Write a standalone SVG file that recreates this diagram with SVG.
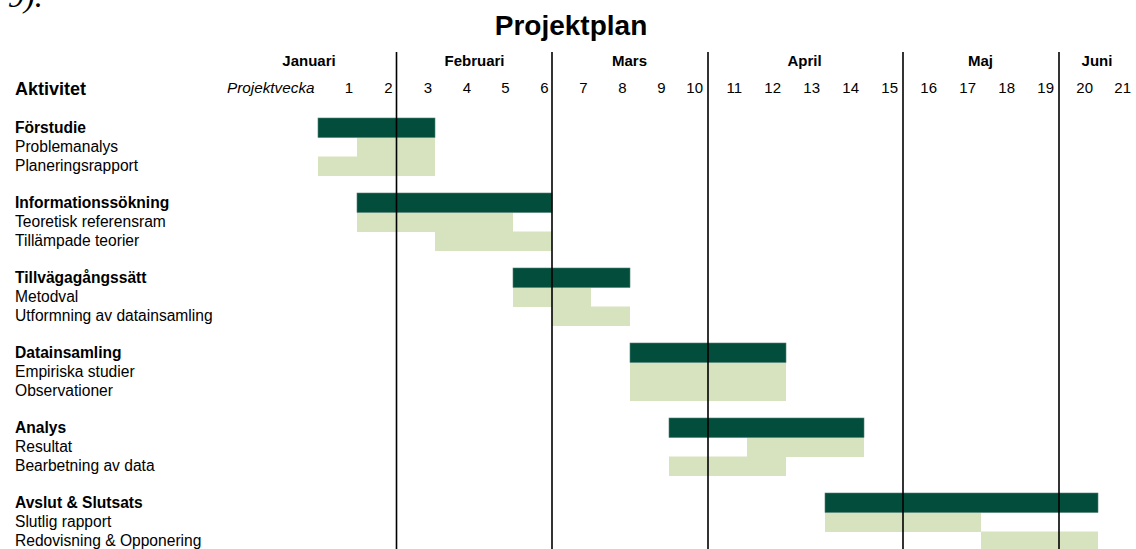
<svg xmlns="http://www.w3.org/2000/svg" width="1136" height="549" viewBox="0 0 1136 549">
<style>
text{font-family:"Liberation Sans",Arial,sans-serif;fill:#000}
.t{font-size:28px;font-weight:bold;text-anchor:middle}
.m{font-size:15px;font-weight:bold;text-anchor:middle}
.n{font-size:15px;text-anchor:end}
.h{font-size:18px;font-weight:bold}
.g{font-size:15.6px;font-weight:bold}
.i{font-size:15.6px}
.p{font-size:15.3px;font-style:italic}
.d{fill:#024d3c;stroke:#4f7f70;stroke-width:0.6}
.l{fill:#d7e2bf}
.v{stroke:#000;stroke-width:1.6}
</style>
<rect width="1136" height="549" fill="#fff"/>
<text x="8" y="7" style="font-family:'Liberation Serif',serif;font-style:italic;font-size:32px">9).</text>
<text class="t" x="571" y="35">Projektplan</text>
<g id="header">
<text class="m" x="309" y="66">Januari</text>
<text class="m" x="474.5" y="66">Februari</text>
<text class="m" x="629.5" y="66">Mars</text>
<text class="m" x="804.5" y="66">April</text>
<text class="m" x="980.5" y="66">Maj</text>
<text class="m" x="1097" y="66">Juni</text>
<text class="h" x="15" y="95">Aktivitet</text>
<text class="p" x="227" y="93">Projektvecka</text>
<text class="n" x="353" y="93">1</text>
<text class="n" x="392.5" y="93">2</text>
<text class="n" x="432" y="93">3</text>
<text class="n" x="471" y="93">4</text>
<text class="n" x="509.5" y="93">5</text>
<text class="n" x="548.5" y="93">6</text>
<text class="n" x="587.5" y="93">7</text>
<text class="n" x="626.5" y="93">8</text>
<text class="n" x="665.5" y="93">9</text>
<text class="n" x="703" y="93">10</text>
<text class="n" x="742" y="93">11</text>
<text class="n" x="781" y="93">12</text>
<text class="n" x="820" y="93">13</text>
<text class="n" x="859" y="93">14</text>
<text class="n" x="898" y="93">15</text>
<text class="n" x="937" y="93">16</text>
<text class="n" x="976" y="93">17</text>
<text class="n" x="1015" y="93">18</text>
<text class="n" x="1054" y="93">19</text>
<text class="n" x="1093" y="93">20</text>
<text class="n" x="1131" y="93">21</text>
</g>
<g id="forstudie">
<text class="g" x="15" y="133">Förstudie</text>
<text class="i" x="15" y="152">Problemanalys</text>
<text class="i" x="15" y="171">Planeringsrapport</text>
<rect class="l" x="357" y="137.5" width="78" height="19.5"/>
<rect class="l" x="318" y="156.5" width="117" height="19.5"/>
<rect class="d" x="318" y="118" width="117" height="19.5"/>
</g>
<g id="informationssokning">
<text class="g" x="15" y="208">Informationssökning</text>
<text class="i" x="15" y="227">Teoretisk referensram</text>
<text class="i" x="15" y="246">Tillämpade teorier</text>
<rect class="l" x="357" y="212.5" width="156" height="19.5"/>
<rect class="l" x="435" y="231.5" width="117" height="19.5"/>
<rect class="d" x="357" y="193" width="195" height="19.5"/>
</g>
<g id="tillvagagangssatt">
<text class="g" x="15" y="283">Tillvägagångssätt</text>
<text class="i" x="15" y="302">Metodval</text>
<text class="i" x="15" y="321">Utformning av datainsamling</text>
<rect class="l" x="513" y="287.5" width="78" height="19.5"/>
<rect class="l" x="552" y="306.5" width="78" height="19.5"/>
<rect class="d" x="513" y="268" width="117" height="19.5"/>
</g>
<g id="datainsamling">
<text class="g" x="15" y="358">Datainsamling</text>
<text class="i" x="15" y="377">Empiriska studier</text>
<text class="i" x="15" y="396">Observationer</text>
<rect class="l" x="630" y="362.5" width="156" height="38.5"/>
<rect class="d" x="630" y="343" width="156" height="19.5"/>
</g>
<g id="analys">
<text class="g" x="15" y="433">Analys</text>
<text class="i" x="15" y="452">Resultat</text>
<text class="i" x="15" y="471">Bearbetning av data</text>
<rect class="l" x="747" y="437.5" width="117" height="19.5"/>
<rect class="l" x="669" y="456.5" width="117" height="19.5"/>
<rect class="d" x="669" y="418" width="195" height="19.5"/>
</g>
<g id="avslut">
<text class="g" x="15" y="508">Avslut &amp; Slutsats</text>
<text class="i" x="15" y="527">Slutlig rapport</text>
<text class="i" x="15" y="546">Redovisning &amp; Opponering</text>
<rect class="l" x="825" y="512.5" width="156" height="19.5"/>
<rect class="l" x="981" y="531.5" width="117" height="19.5"/>
<rect class="d" x="825" y="493" width="273" height="19.5"/>
</g>
<g id="connectors">
<line class="v" x1="396.5" y1="52" x2="396.5" y2="549"/>
<line class="v" x1="552" y1="52" x2="552" y2="549"/>
<line class="v" x1="708" y1="52" x2="708" y2="549"/>
<line class="v" x1="903" y1="52" x2="903" y2="549"/>
<line class="v" x1="1059" y1="52" x2="1059" y2="549"/>
</g>
</svg>
